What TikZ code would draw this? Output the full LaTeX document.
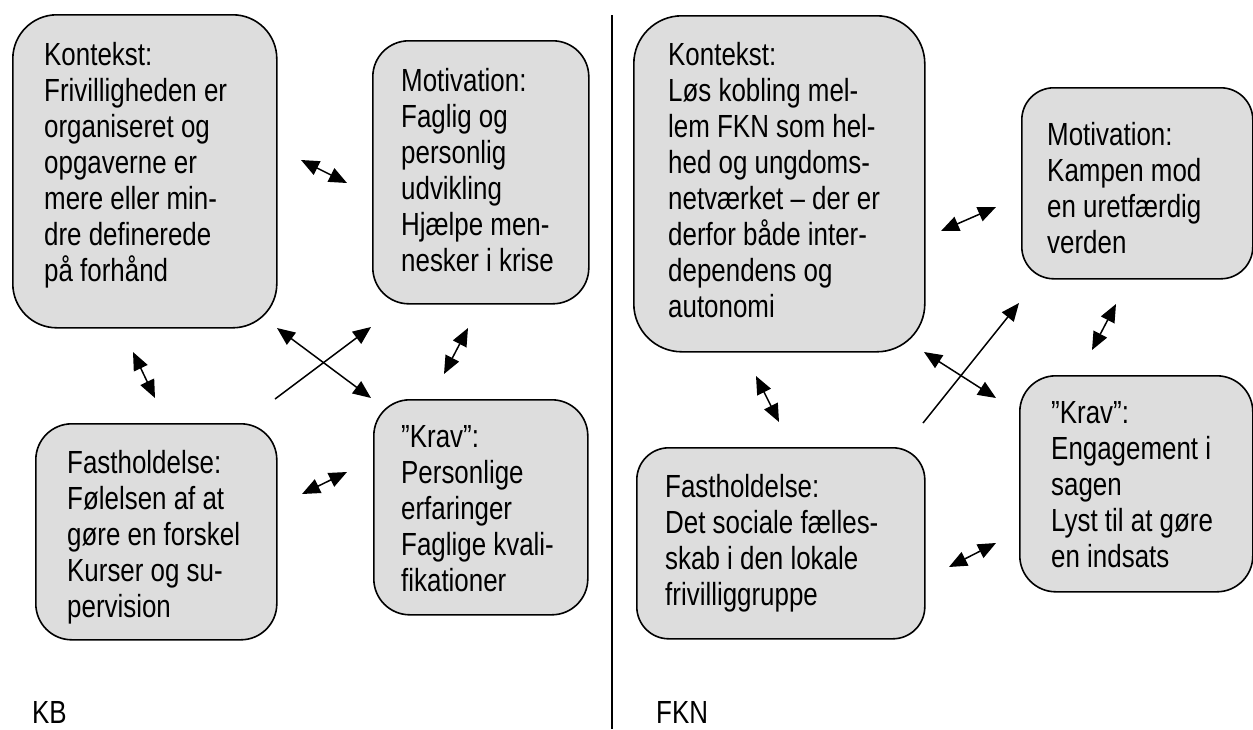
\documentclass[tikz,border=0pt]{standalone}
\usepackage{fontspec}
\setmainfont{Liberation Sans}[FakeStretch=0.81]
\usetikzlibrary{arrows.meta}
\definecolor{boxfill}{RGB}{221,221,221}
\begin{document}
\begin{tikzpicture}[x=1pt,y=-1pt,
  panel/.style={draw=black, line width=1.6pt, fill=boxfill, inner sep=0pt,
    anchor=north west, rectangle},
  txt/.style={anchor=north west, inner sep=0pt, align=left,
    font=\fontsize{32}{36}\selectfont},
  tag/.style={anchor=base west, inner sep=0pt, font=\fontsize{32}{36}\selectfont},
  link/.style={line width=1.5pt, {Triangle[length=18pt,width=15pt]}-{Triangle[length=18pt,width=15pt]}},
  onelink/.style={line width=1.5pt, -{Triangle[length=18pt,width=15pt]}}
]
\useasboundingbox (0,0) rectangle (1253,729);

% ---------- KB ----------
\node[panel, minimum width=264pt, minimum height=313pt, rounded corners=44pt] (ctxKB) at (12,14) {};
\node[panel, minimum width=216pt, minimum height=263pt, rounded corners=36pt] (motKB) at (372,40) {};
\node[panel, minimum width=241pt, minimum height=216pt, rounded corners=36pt] (fstKB) at (35,423) {};
\node[panel, minimum width=214pt, minimum height=215pt, rounded corners=36pt] (kravKB) at (373,399) {};

\node[txt] (ctxKBtext) at (44,39.8) {\strut Kontekst:\\Frivilligheden er\\organiseret og\\opgaverne er\\mere eller min-\\dre definerede\\på forhånd};
\node[txt] (motKBtext) at (401,65.8) {\strut Motivation:\\Faglig og\\personlig\\udvikling\\Hjælpe men-\\nesker i krise};
\node[txt] (fstKBtext) at (67,447.8) {\strut Fastholdelse:\\Følelsen af at\\gøre en forskel\\Kurser og su-\\pervision};
\node[txt] (kravKBtext) at (401,421.8) {\strut ”Krav”:\\Personlige\\erfaringer\\Faglige kvali-\\fikationer};

% arrow end points, KB
\coordinate (kA1) at (301,160); \coordinate (kA2) at (347,183);
\coordinate (kB1) at (133,352); \coordinate (kB2) at (155,398);
\coordinate (kC1) at (277,328); \coordinate (kC2) at (371,398);
\coordinate (kD1) at (275,399); \coordinate (kD2) at (371,327);
\coordinate (kE1) at (468,328); \coordinate (kE2) at (444,374);
\coordinate (kF1) at (302,494); \coordinate (kF2) at (347,472);

\draw[link] (kA1) -- (kA2);
\draw[link] (kB1) -- (kB2);
\draw[link] (kC1) -- (kC2);
\draw[onelink] (kD1) -- (kD2);
\draw[link] (kE1) -- (kE2);
\draw[link] (kF1) -- (kF2);

\node[tag] (kbLabel) at (32,723) {KB};

% ---------- divider ----------
\coordinate (divTop) at (612,15);
\coordinate (divBot) at (612,729);
\draw[line width=2pt] (divTop) -- (divBot);

% ---------- FKN ----------
\node[panel, minimum width=291pt, minimum height=336pt, rounded corners=48pt] (ctxFKN) at (633,15) {};
\node[panel, minimum width=231pt, minimum height=191pt, rounded corners=32pt] (motFKN) at (1021,87) {};
\node[panel, minimum width=233pt, minimum height=216pt, rounded corners=36pt] (kravFKN) at (1019,375) {};
\node[panel, minimum width=288pt, minimum height=191pt, rounded corners=32pt] (fstFKN) at (636,447) {};

\node[txt] (ctxFKNtext) at (668,39.8) {\strut Kontekst:\\Løs kobling mel-\\lem FKN som hel-\\hed og ungdoms-\\netværket – der er\\derfor både inter-\\dependens og\\autonomi};
\node[txt] (motFKNtext) at (1047,119.8) {\strut Motivation:\\Kampen mod\\en uretfærdig\\verden};
\node[txt] (kravFKNtext) at (1051,397.8) {\strut ”Krav”:\\Engagement i\\sagen\\Lyst til at gøre\\en indsats};
\node[txt] (fstFKNtext) at (665,471.8) {\strut Fastholdelse:\\Det sociale fælles-\\skab i den lokale\\frivilliggruppe};

% arrow end points, FKN
\coordinate (fA1) at (941,231);  \coordinate (fA2) at (996,207);
\coordinate (fB1) at (756,376);  \coordinate (fB2) at (779,422);
\coordinate (fC1) at (924,352);  \coordinate (fC2) at (996,398);
\coordinate (fD1) at (923,423);  \coordinate (fD2) at (1019,303);
\coordinate (fE1) at (1116,304); \coordinate (fE2) at (1092,350);
\coordinate (fF1) at (949,567);  \coordinate (fF2) at (996,543);

\draw[link] (fA1) -- (fA2);
\draw[link] (fB1) -- (fB2);
\draw[link] (fC1) -- (fC2);
\draw[onelink] (fD1) -- (fD2);
\draw[link] (fE1) -- (fE2);
\draw[link] (fF1) -- (fF2);

\node[tag] (fknLabel) at (656,723) {FKN};
\end{tikzpicture}
\end{document}
